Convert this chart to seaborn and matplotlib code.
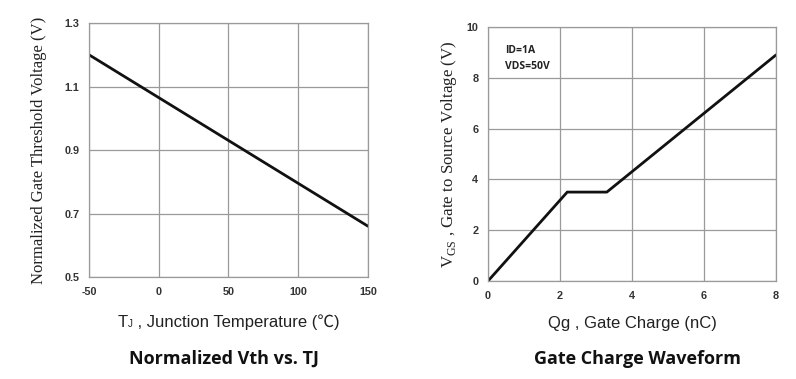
import numpy as np
import pandas as pd
import matplotlib
matplotlib.use("Agg")
import matplotlib.pyplot as plt
import seaborn as sns
from matplotlib.offsetbox import TextArea, HPacker, AnnotationBbox

# ==========================================
# DATA
# ==========================================
tj_temp = [-50, 150]
vth_norm = [1.20, 0.66]

qg_charge = [0.0, 2.2, 3.3, 8.0]
vgs_volt = [0.0, 3.5, 3.5, 8.9]

left_xticks = [-50, 0, 50, 100, 150]
left_yticks = [0.5, 0.7, 0.9, 1.1, 1.3]
right_xticks = [0, 2, 4, 6, 8]
right_yticks = [0, 2, 4, 6, 8, 10]

# ==========================================
# STYLE
# ==========================================
sns.set_theme(style="white")
plt.rcParams['font.family'] = ['Liberation Sans', 'DejaVu Sans']

GRID = '#9a9a9a'
TICK_KW = dict(fontsize=7.8, fontweight='bold', color='#333333')
SERIF = ['Liberation Serif', 'DejaVu Serif']
SANS_CJK = ['Liberation Sans', 'Noto Sans CJK SC', 'DejaVu Sans']
TITLE_FONT = ['Open Sans', 'DejaVu Sans']

fig = plt.figure(figsize=(7.96, 3.79), dpi=100)
ax1 = fig.add_axes([0.1118, 0.2691, 0.3505, 0.6702])
ax2 = fig.add_axes([0.6131, 0.2586, 0.3618, 0.6702])


def style_axes(ax, xticks, yticks, yfmt):
    ax.set_xlim(xticks[0], xticks[-1])
    ax.set_ylim(yticks[0], yticks[-1])
    ax.set_xticks(xticks)
    ax.set_yticks(yticks)
    ax.set_xticklabels([str(t) for t in xticks], **TICK_KW)
    ax.set_yticklabels([yfmt.format(t) for t in yticks], **TICK_KW)
    ax.tick_params(axis='x', length=0, pad=7)
    ax.tick_params(axis='y', length=0, pad=7)
    ax.grid(True, color=GRID, linewidth=0.9)
    ax.set_axisbelow(True)
    for s in ax.spines.values():
        s.set_color(GRID)
        s.set_linewidth(0.9)


# Chart 1: Normalized Vth vs TJ
df1 = pd.DataFrame({'tj': tj_temp, 'vth': vth_norm})
sns.lineplot(data=df1, x='tj', y='vth', ax=ax1, color='#111111', linewidth=2)
style_axes(ax1, left_xticks, left_yticks, "{:.1f}")
ax1.set_xlabel("")
ax1.set_ylabel("Normalized Gate Threshold Voltage (V)", fontsize=12,
               family=SERIF, color='#222222', labelpad=12)

# x label with small J (no mathtext so the ℃ glyph can fall back)
lab_kw = dict(fontsize=12, color='#222222', family=SANS_CJK)
parts = [TextArea("T", textprops=lab_kw),
         TextArea("J", textprops=dict(lab_kw, fontsize=7)),
         TextArea(" , Junction Temperature (℃)", textprops=lab_kw)]
box = HPacker(children=parts, align='baseline', pad=0, sep=0)
ax1.add_artist(AnnotationBbox(box, (0.5, -0.177), xycoords='axes fraction',
                              frameon=False, box_alignment=(0.5, 0.5),
                              annotation_clip=False))

# Chart 2: Gate Charge Waveform
df2 = pd.DataFrame({'qg': qg_charge, 'vgs': vgs_volt})
sns.lineplot(data=df2, x='qg', y='vgs', ax=ax2, color='#111111', linewidth=2)
style_axes(ax2, right_xticks, right_yticks, "{:d}")
ax2.set_xlabel("Qg , Gate Charge (nC)", fontsize=12, color='#222222', labelpad=11)
ax2.set_ylabel(r"V$_{\mathregular{GS}}$ , Gate to Source Voltage (V)", fontsize=12.2,
               family=SERIF, color='#222222', labelpad=5)
ax2.text(0.06, 0.93, "ID=1A\nVDS=50V", transform=ax2.transAxes, fontsize=7.5,
         fontweight='bold', color='#222222', va='top', ha='left', linespacing=1.6,
         family=['Open Sans', 'DejaVu Sans'])

fig.text(224 / 796, 1 - 359 / 379, "Normalized Vth vs. TJ", ha='center', va='center',
         fontsize=13, fontweight='bold', family=TITLE_FONT, color='#111111')
fig.text(637 / 796, 1 - 359 / 379, "Gate Charge Waveform", ha='center', va='center',
         fontsize=13, fontweight='bold', family=TITLE_FONT, color='#111111')

fig.savefig('out.png', dpi=100)
